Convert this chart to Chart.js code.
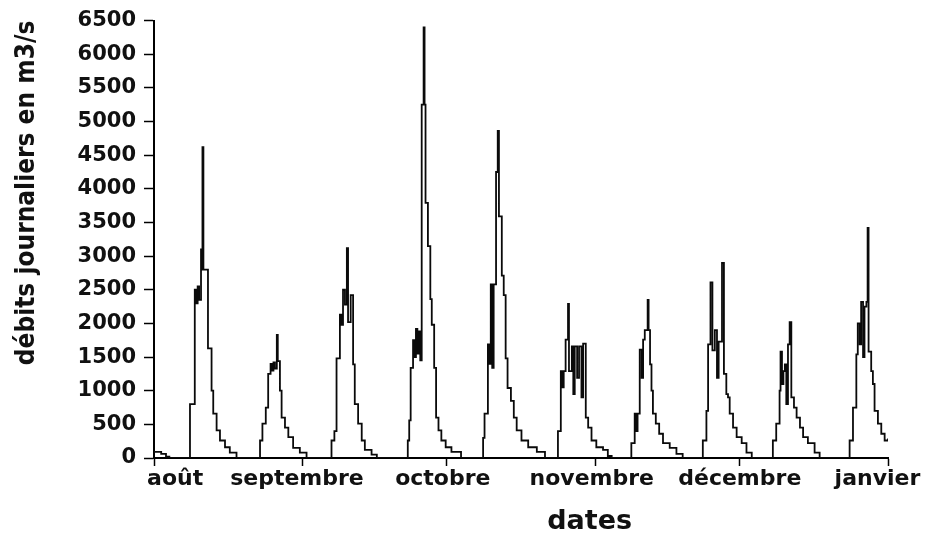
<!DOCTYPE html>
<html lang="fr">
<head>
<meta charset="utf-8">
<title>Débits journaliers</title>
<script src="https://cdn.jsdelivr.net/npm/chart.js@4.4.1/dist/chart.umd.min.js"></script>
<style>
  html, body { margin: 0; padding: 0; background: #fff; }
  #cadre { width: 930px; height: 538px; }
</style>
</head>
<body>
<div id="cadre"><canvas id="debits"></canvas></div>
<script>
// Mois sous l'axe, limites des mois en jours depuis le 1er août
const mois = ['août', 'septembre', 'octobre', 'novembre', 'décembre', 'janvier'];
const limitesMois = [0, 31, 61, 92, 122, 153];
const graduations = [0, 500, 1000, 1500, 2000, 2500, 3000, 3500, 4000, 4500, 5000, 5500, 6000, 6500];

// [jour, débit en m3/s], crue par crue
const debutAout = [[0, 90], [1.5, 60], [2.5, 20], [3.2, 0]];
const crue1 = [[7.5, 800], [8.5, 2500], [8.8, 2300], [9.1, 2550], [9.4, 2350], [9.8, 3100], [10.0, 2800],
  [10.1, 4620], [10.3, 2800], [11.25, 1630], [12.0, 1000], [12.35, 660], [13.05, 410], [13.75, 260],
  [14.8, 160], [15.8, 80], [17.2, 0]];
const crue2 = [[22.1, 260], [22.6, 510], [23.3, 750], [23.8, 1250], [24.3, 1400], [24.6, 1300], [24.9, 1420],
  [25.2, 1330], [25.6, 1830], [25.8, 1440], [26.25, 1000], [26.6, 600], [27.3, 450], [28.0, 310],
  [29.0, 150], [30.4, 80], [31.8, 0]];
const crue3 = [[37.0, 260], [37.6, 400], [38.05, 1480], [38.75, 2130], [39.1, 1980], [39.4, 2500], [39.8, 2280],
  [40.2, 3120], [40.45, 2020], [41.0, 2420], [41.5, 1390], [41.85, 800], [42.55, 510], [43.3, 260],
  [43.95, 120], [45.35, 50], [46.45, 0]];
const crue4 = [[52.9, 260], [53.2, 560], [53.5, 1340], [54.0, 1750], [54.3, 1500], [54.6, 1920], [54.9, 1550],
  [55.2, 1880], [55.5, 1450], [55.8, 5250], [56.2, 6400], [56.4, 5250], [56.6, 3790], [57.1, 3150],
  [57.6, 2360], [57.9, 1980], [58.4, 1340], [58.8, 600], [59.3, 410], [59.9, 260], [60.8, 160],
  [62.0, 90], [64.0, 0]];
const crue5 = [[68.6, 300], [68.9, 660], [69.6, 1690], [69.85, 1400], [70.2, 2580], [70.5, 1340], [70.8, 2580],
  [71.3, 4250], [71.65, 4860], [71.9, 3590], [72.5, 2710], [72.9, 2420], [73.3, 1480], [73.7, 1040],
  [74.4, 850], [75.0, 600], [75.6, 410], [76.6, 260], [78.0, 160], [79.8, 90], [81.5, 0]];
const crue6 = [[84.2, 400], [84.8, 1290], [85.1, 1050], [85.4, 1290], [85.8, 1760], [86.3, 2290], [86.5, 1290],
  [87.1, 1660], [87.4, 950], [87.7, 1660], [88.2, 1190], [88.6, 1660], [89.1, 900], [89.45, 1700],
  [90.0, 600], [90.5, 450], [91.2, 260], [92.2, 160], [93.6, 120], [94.6, 30], [95.4, 0]];
const crue7 = [[99.5, 220], [100.2, 660], [100.55, 400], [100.8, 660], [101.25, 1610], [101.65, 1190],
  [101.95, 1760], [102.3, 1900], [102.9, 2350], [103.1, 1900], [103.4, 1390], [103.7, 1000], [104.0, 660],
  [104.6, 510], [105.3, 360], [106.1, 220], [107.5, 150], [108.9, 60], [110.2, 0]];
const crue8 = [[114.4, 260], [115.15, 700], [115.5, 1690], [116.0, 2610], [116.4, 1600], [116.9, 1900],
  [117.35, 1190], [117.7, 1730], [118.4, 2900], [118.8, 1250], [119.3, 950], [119.65, 900], [120.0, 660],
  [120.7, 450], [121.45, 310], [122.5, 220], [123.5, 80], [124.6, 0]];
const crue9 = [[129.0, 260], [129.7, 510], [130.4, 1000], [130.6, 1580], [130.9, 1100], [131.2, 1290],
  [131.5, 1390], [131.8, 800], [132.15, 1690], [132.5, 2020], [132.85, 900], [133.4, 750], [133.95, 600],
  [134.65, 450], [135.3, 310], [136.3, 220], [137.7, 80], [138.75, 0]];
const crue10 = [[145.0, 260], [145.7, 750], [146.4, 1540], [146.7, 2000], [147.1, 1690], [147.4, 2320],
  [147.8, 1500], [148.1, 2250], [148.5, 2320], [148.75, 3420], [148.95, 1580], [149.5, 1290],
  [149.85, 1100], [150.2, 700], [150.9, 510], [151.6, 360], [152.3, 260], [153, 290]];

const crues = [debutAout, crue1, crue2, crue3, crue4, crue5, crue6, crue7, crue8, crue9, crue10];
const points = crues.flat().map(([jour, debit]) => ({ x: jour, y: debit }));

const policeLarge = '"DejaVu Sans", "Liberation Sans", sans-serif';

// noms des mois et titre "dates" sous l'axe horizontal
const etiquettesDates = {
  id: 'etiquettesDates',
  afterDraw(chart) {
    const { ctx, scales: { x } } = chart;
    const centres = [4.4, 29.8, 60.2, 91.25, 122.1, 150.8];
    ctx.save();
    ctx.fillStyle = '#111';
    ctx.textAlign = 'center';
    ctx.textBaseline = 'middle';
    ctx.font = 'bold 22px ' + policeLarge;
    mois.forEach((m, i) => ctx.fillText(m, x.getPixelForValue(centres[i]), x.top + 21));
    ctx.font = 'bold 27px ' + policeLarge;
    ctx.fillText('dates', x.getPixelForValue(90.8), x.top + 64);
    ctx.restore();
  }
};

const ctx = document.getElementById('debits').getContext('2d');
new Chart(ctx, {
  type: 'line',
  data: {
    datasets: [{
      label: 'débits journaliers',
      data: points,
      borderColor: '#0a0a0a',
      borderWidth: 1.8,
      stepped: true,
      pointRadius: 0,
      fill: false
    }]
  },
  options: {
    responsive: true,
    maintainAspectRatio: false,
    animation: false,
    devicePixelRatio: 1,
    layout: { padding: { top: 14, right: 42, bottom: 0, left: 0 } },
    plugins: { legend: { display: false }, tooltip: { enabled: false } },
    scales: {
      x: {
        type: 'linear',
        min: 0,
        max: 153,
        afterBuildTicks: s => { s.ticks = limitesMois.map(v => ({ value: v })); },
        afterFit: s => { s.height = 80; },
        grid: { drawOnChartArea: false, tickLength: 8, tickColor: '#000', tickWidth: 1.5 },
        border: { color: '#000', width: 2 },
        ticks: { display: false }
      },
      y: {
        min: 0,
        max: 6500,
        afterBuildTicks: s => { s.ticks = graduations.map(v => ({ value: v })); },
        afterFit: s => { s.width = 154; },
        grid: { drawOnChartArea: false, tickLength: 10, tickColor: '#000', tickWidth: 1.5 },
        border: { color: '#000', width: 2 },
        ticks: {
          color: '#111',
          padding: 8,
          callback: v => String(v),
          font: { family: policeLarge, weight: 'bold', size: 21 }
        },
        title: {
          display: true,
          text: 'débits journaliers en m3/s',
          align: 'end',
          color: '#111',
          padding: { top: 12, bottom: 0 },
          font: { family: '"Liberation Sans Narrow", "DejaVu Sans Condensed", sans-serif', weight: 'bold', size: 26 }
        }
      }
    }
  },
  plugins: [etiquettesDates]
});
</script>
</body>
</html>
